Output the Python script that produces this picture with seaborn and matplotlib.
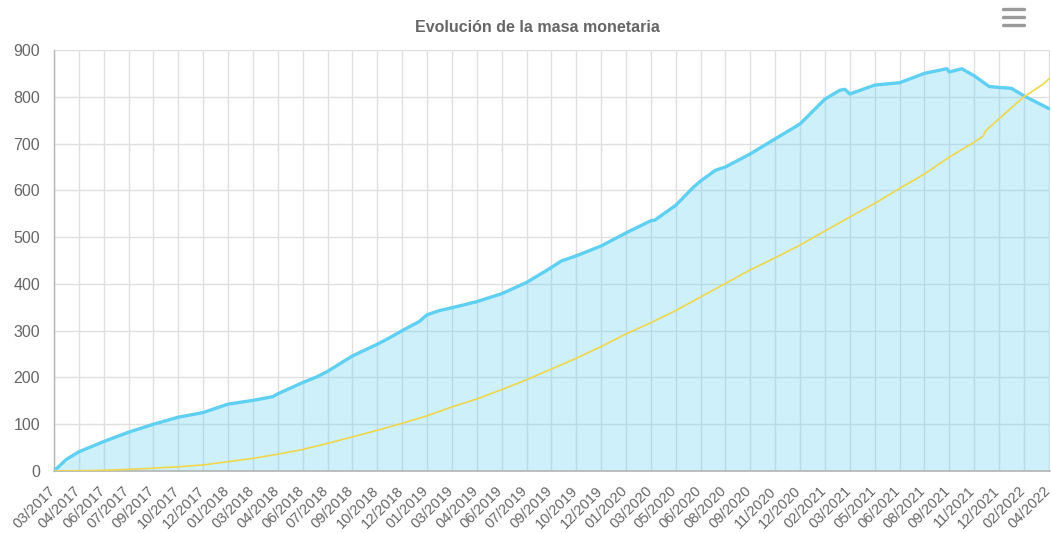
import matplotlib
matplotlib.use("Agg")
import matplotlib.pyplot as plt
import matplotlib.transforms as mtransforms
from matplotlib.lines import Line2D
import seaborn as sns
import pandas as pd

# ---- data (x positions are in label-interval units) ----
tick_labels = ["03/2017", "04/2017", "06/2017", "07/2017", "09/2017", "10/2017", "12/2017",
               "01/2018", "03/2018", "04/2018", "06/2018", "07/2018", "09/2018", "10/2018",
               "12/2018", "01/2019", "03/2019", "04/2019", "06/2019", "07/2019", "09/2019",
               "10/2019", "12/2019", "01/2020", "03/2020", "05/2020", "06/2020", "08/2020",
               "09/2020", "11/2020", "12/2020", "02/2021", "03/2021", "05/2021", "06/2021",
               "08/2021", "09/2021", "11/2021", "12/2021", "02/2022", "04/2022"]

blue_x = [0, 0.5, 1, 2, 3, 4, 5, 6, 7, 8, 8.8, 9, 10, 10.6, 11, 12, 13, 13.5, 14, 14.7, 15,
          15.5, 16, 17, 18, 19, 20, 20.4, 21, 22, 23, 24, 24.15, 25, 25.7, 26, 26.6, 27, 28,
          29, 30, 31, 31.6, 31.8, 32, 33, 34, 35, 35.9, 36, 36.5, 37, 37.6, 38, 38.5, 39, 40]
blue_y = [0, 25, 41, 63, 83, 100, 115, 125, 143, 151, 159, 165, 189, 202, 213, 246, 271, 285,
          300, 320, 334, 343, 349, 362, 379, 403, 435, 449, 460, 481, 509, 535, 536, 568, 606,
          620, 643, 650, 678, 710, 742, 795, 814, 816, 806, 825, 830, 850, 860, 853, 860, 845,
          822, 820, 818, 802, 775]

yellow_x = [0, 1, 2, 3, 4, 5, 6, 7, 8, 9, 10, 11, 12, 13, 14, 15, 16, 17, 18, 19, 20, 21, 22,
            23, 24, 25, 26, 27, 28, 29, 30, 31, 32, 33, 34, 35, 36, 37, 37.36, 37.47, 38, 39,
            39.78, 40]
yellow_y = [0, 0.5, 1.5, 3.5, 6, 9, 13, 20, 27, 36, 46, 59, 73, 87, 102, 118, 137, 154, 174,
            195, 218, 241, 266, 293, 317, 343, 372, 401, 430, 456, 483, 513, 543, 572, 604,
            635, 671, 703, 716, 728, 753, 800, 827, 838]

y_ticks = [0, 100, 200, 300, 400, 500, 600, 700, 800, 900]

title = "Evolución de la masa monetaria"

# ---- style ----
sns.set_theme(style="white")
plt.rcParams["font.family"] = ["Liberation Sans", "DejaVu Sans"]

BLUE = "#5fd0f2"
YELLOW = "#f0d64a"
TEXT = "#666666"
GRID = "#e0e0e0"

fig = plt.figure(figsize=(10.51, 5.33), dpi=100)
ax = fig.add_axes([54 / 1051, 1 - 471 / 533, (1050 - 54) / 1051, (471 - 50) / 533])

blue_df = pd.DataFrame({"x": blue_x, "y": blue_y})
yellow_df = pd.DataFrame({"x": yellow_x, "y": yellow_y})

ax.set_axisbelow(True)
ax.grid(True, color=GRID, linewidth=1.0)

ax.fill_between(blue_df["x"], blue_df["y"], 0, color=BLUE, alpha=0.30, linewidth=0, zorder=2)
sns.lineplot(data=blue_df, x="x", y="y", ax=ax, color=BLUE, linewidth=2.4, zorder=3)
sns.lineplot(data=yellow_df, x="x", y="y", ax=ax, color=YELLOW, linewidth=1.2, zorder=4)

ax.set_xlim(0, 40.05)
ax.set_ylim(0, 900)
ax.set_xticks(range(len(tick_labels)))
ax.set_xticklabels([])
# rotated category labels, placed just left/below each tick
offset = mtransforms.ScaledTranslation(-6 / 100, -13 / 100, fig.dpi_scale_trans)
label_tf = ax.get_xaxis_transform() + offset
for i, lab in enumerate(tick_labels):
    ax.text(i, 0, lab, transform=label_tf, rotation=45, ha="right", va="top",
            rotation_mode="anchor", fontsize=10.5, color=TEXT, clip_on=False)

ax.set_yticks(y_ticks)
ax.set_yticklabels([str(v) for v in y_ticks], fontsize=11.5, color=TEXT)
ax.tick_params(axis="x", length=7, width=1, color="#d0d0d0", pad=3)
ax.tick_params(axis="y", length=0, pad=10)
ax.set_xlabel("")
ax.set_ylabel("")

for s in ["top", "right"]:
    ax.spines[s].set_visible(False)
ax.spines["bottom"].set_color("#b5b5b5")
ax.spines["left"].set_color("#b5b5b5")
ax.spines["bottom"].set_linewidth(1.2)
ax.spines["left"].set_linewidth(1.0)

fig.text(537 / 1051, 1 - 27 / 533, title, ha="center", va="center",
         fontsize=11.5, fontweight="bold", color=TEXT)

# menu icon (three bars)
for yy in [9, 16.7, 24.5]:
    fig.add_artist(Line2D([1003 / 1051, 1024 / 1051], [1 - yy / 533, 1 - yy / 533],
                          color="#9a9a9a", linewidth=2.4, solid_capstyle="round"))

fig.savefig("out.png", dpi=100)
